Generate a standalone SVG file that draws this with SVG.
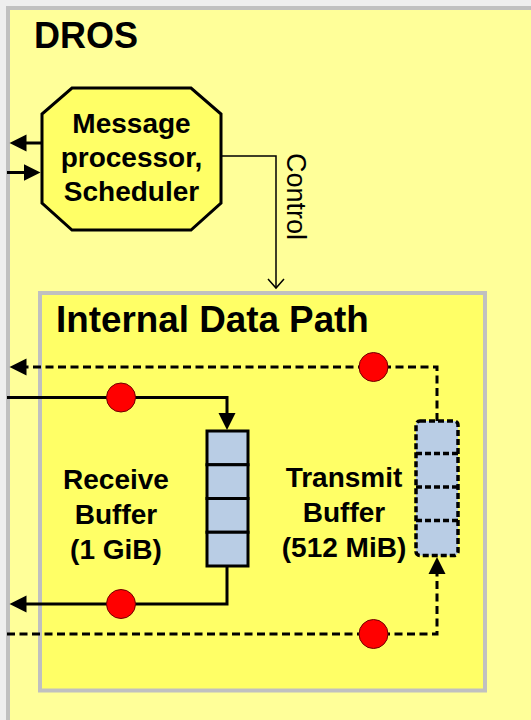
<svg xmlns="http://www.w3.org/2000/svg" width="531" height="720" viewBox="0 0 531 720">
  <style>
    .title { font-family: "Liberation Sans", Arial, sans-serif; font-weight: bold; font-size: 36px; fill: #000; }
    .label { font-family: "Liberation Sans", Arial, sans-serif; font-weight: bold; font-size: 28px; fill: #000; text-anchor: middle; }
    .ctl { font-family: "Liberation Sans", Arial, sans-serif; font-size: 27px; fill: #000; }
    .frame { stroke: #c0c0c0; stroke-width: 4; }
    .solid { fill: none; stroke: #000; stroke-width: 3; }
    .dashed { fill: none; stroke: #000; stroke-width: 3; stroke-dasharray: 8 4.5; }
    .dot { fill: #ff0000; stroke: #6e0000; stroke-width: 1; }
    .cell { fill: #b9cde5; stroke: #000; stroke-width: 3; }
    .cell-dash { fill: #b9cde5; stroke: #000; stroke-width: 3.5; stroke-dasharray: 6 3; }
  </style>
  <defs>
    <marker id="head" markerUnits="userSpaceOnUse" markerWidth="18" markerHeight="18" viewBox="0 -9 18 18" refX="2" refY="0" orient="auto">
      <path d="M0,-8.5 L17,0 L0,8.5 z" fill="#000"/>
    </marker>
  </defs>

  <!-- page background -->
  <rect x="0" y="0" width="531" height="720" fill="#eeeeee"/>

  <!-- DROS container -->
  <g id="dros">
    <rect class="frame" x="8" y="8" width="560" height="740" fill="#ffff99"/>
    <text class="title" x="34" y="48">DROS</text>
  </g>

  <!-- message processor / scheduler -->
  <g id="scheduler">
    <polygon points="72,88 191,88 221,114 221,203 191,230 72,230 42,203 42,114" fill="#ffff66" stroke="#000" stroke-width="3"/>
    <text class="label" x="131.5" y="133">Message</text>
    <text class="label" x="131.5" y="167">processor,</text>
    <text class="label" x="131.5" y="200.5">Scheduler</text>
  </g>

  <!-- internal data path container -->
  <g id="datapath">
    <rect class="frame" x="40" y="293" width="445" height="397.5" fill="#ffff66"/>
    <text class="title" x="56" y="331.5" style="font-size:36.8px">Internal Data Path</text>
  </g>

  <!-- receive buffer -->
  <g id="receive-buffer">
    <rect class="cell" x="207" y="431" width="41" height="33.75"/>
    <rect class="cell" x="207" y="464.75" width="41" height="33.75"/>
    <rect class="cell" x="207" y="498.5" width="41" height="33.75"/>
    <rect class="cell" x="207" y="532.25" width="41" height="33.75"/>
    <text class="label" x="116" y="489">Receive</text>
    <text class="label" x="116" y="524">Buffer</text>
    <text class="label" x="116" y="559">(1 GiB)</text>
  </g>

  <!-- transmit buffer -->
  <g id="transmit-buffer">
    <rect class="cell-dash" x="416" y="421" width="42" height="134.5" rx="4"/>
    <line x1="416" y1="453.5" x2="458" y2="453.5" stroke="#000" stroke-width="3.5" stroke-dasharray="6 3"/>
    <line x1="416" y1="487" x2="458" y2="487" stroke="#000" stroke-width="3.5" stroke-dasharray="6 3"/>
    <line x1="416" y1="520.5" x2="458" y2="520.5" stroke="#000" stroke-width="3.5" stroke-dasharray="6 3"/>
    <text class="label" x="344" y="487">Transmit</text>
    <text class="label" x="344" y="522">Buffer</text>
    <text class="label" x="344" y="557">(512 MiB)</text>
  </g>

  <!-- connectors -->
  <g id="connectors">
    <path class="solid" d="M42,143 H24.5" marker-end="url(#head)"/>
    <path class="solid" d="M7,172.5 H25.5" marker-end="url(#head)"/>

    <path d="M221,156 H276 V287" fill="none" stroke="#000" stroke-width="1.5"/>
    <polyline points="268,279 276,288 284,279" fill="none" stroke="#000" stroke-width="1.5"/>
    <text class="ctl" transform="translate(287,153) rotate(90)">Control</text>

    <path class="solid" d="M7,397.5 H227 V415" marker-end="url(#head)"/>
    <path class="solid" d="M227,566 V604 H24.5" marker-end="url(#head)"/>
    <path class="dashed" d="M437,421 V367 H24.5" marker-end="url(#head)"/>
    <path class="dashed" d="M7,634 H437 V572" marker-end="url(#head)"/>

    <circle class="dot" cx="121" cy="397.5" r="14.5"/>
    <circle class="dot" cx="373.5" cy="367" r="14.5"/>
    <circle class="dot" cx="121" cy="604" r="14.5"/>
    <circle class="dot" cx="373.5" cy="634" r="14.5"/>
  </g>
</svg>
